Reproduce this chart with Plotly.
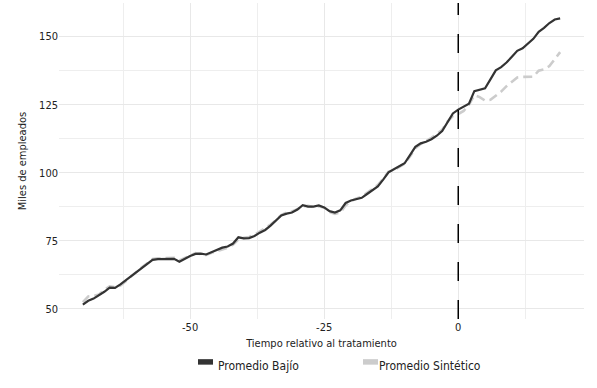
import plotly.graph_objects as go

# ---------------- data ----------------
tiempo = list(range(-70, 20))

promedio_bajio = [
    51.6, 53.0, 53.8, 55.0, 56.3, 57.8, 57.7, 59.0, 60.5, 62.0,
    63.5, 65.0, 66.5, 68.0, 68.3, 68.3, 68.4, 68.4, 67.3, 68.5,
    69.4, 70.2, 70.3, 70.0, 70.8, 71.6, 72.5, 72.9, 74.0, 76.3,
    75.9, 76.0, 76.8, 78.0, 79.0, 80.6, 82.3, 84.3, 85.0, 85.4,
    86.5, 88.1, 87.6, 87.6, 88.0, 87.3, 85.9, 85.4, 86.2, 88.9,
    89.8, 90.4, 90.8, 92.2, 93.5, 95.0, 97.5, 100.2, 101.3, 102.4,
    103.5, 106.5, 109.5, 110.8, 111.4, 112.3, 113.6, 115.3, 118.3, 121.8,
    123.2, 124.2, 125.4, 130.0, 130.5, 131.0, 134.3, 137.6, 138.8, 140.5,
    142.6, 144.8, 145.7, 147.3, 149.2, 151.8, 153.2, 155.0, 156.3, 156.7,
]

promedio_sintetico = [
    52.5, 54.6, 54.8, 55.3, 57.0, 58.3, 58.0, 58.6, 60.2, 62.0,
    63.7, 65.3, 66.8, 68.3, 68.6, 68.7, 68.9, 68.8, 67.8, 68.7,
    69.7, 70.5, 70.1, 69.8, 70.6, 71.2, 72.0, 72.5, 73.6, 75.5,
    76.1, 76.4, 77.2, 78.4, 79.5, 81.0, 82.6, 84.5, 85.4, 85.8,
    86.6, 87.7, 87.9, 87.4, 87.7, 87.2, 85.6, 84.9, 85.4, 88.0,
    89.5, 90.6, 91.2, 92.6, 93.9, 95.5, 97.8, 100.4, 101.0, 102.0,
    103.3, 106.0, 109.0, 110.6, 111.6, 112.8, 114.2, 115.8, 118.8, 120.8,
    121.6, 122.7, 125.0, 128.5, 127.8, 126.5, 126.8, 128.3, 129.8, 131.8,
    133.5, 135.0, 135.2, 135.2, 135.3, 137.5, 138.0, 139.2, 141.8, 144.3,
]

x_ticks = [-50, -25, 0]
y_ticks = [50, 75, 100, 125, 150]
tratamiento = 0

series_names = ["Promedio Bajío", "Promedio Sintético"]
series_colors = ["#333333", "#cccccc"]

FONT = "DejaVu Sans Condensed, sans-serif"
TXT = "#222222"

fig = go.Figure()

fig.add_trace(go.Scatter(
    x=tiempo, y=promedio_sintetico, mode="lines", name=series_names[1],
    line=dict(color=series_colors[1], width=2.6, dash="9px,5px"),
    showlegend=False,
))
fig.add_trace(go.Scatter(
    x=tiempo, y=promedio_bajio, mode="lines", name=series_names[0],
    line=dict(color=series_colors[0], width=2.2),
    showlegend=False,
))

# vertical treatment line (drawn bottom to top like ggplot)
fig.add_shape(type="line", xref="x", yref="y domain",
              x0=tratamiento, x1=tratamiento, y0=0, y1=1,
              line=dict(color="black", width=1.5, dash="19px,19px"))

# legend (swatch + label)
for (name, color, (sx, tx)) in zip(series_names, series_colors,
                                   [(198, 215.5), (363, 376.5)]):
    fig.add_shape(type="rect", xref="paper", yref="paper",
                  x0=(sx - 59) / 525, x1=(sx + 15 - 59) / 525,
                  y0=(319.3 - 365) / 316.3, y1=(319.3 - 359.5) / 316.3,
                  fillcolor=color, line=dict(width=0))
    fig.add_annotation(text=name, xref="paper", yref="paper",
                       x=(tx - 59) / 525, y=(319.3 - 366) / 316.3,
                       xanchor="left", yanchor="middle", showarrow=False,
                       font=dict(family=FONT, size=12, color=TXT))

fig.update_layout(
    width=597, height=388,
    margin=dict(l=59, r=13, t=3, b=69),
    paper_bgcolor="white", plot_bgcolor="white",
    font=dict(family=FONT, size=11, color=TXT),
    showlegend=False,
)

fig.update_xaxes(
    range=[-74.45, 23.45], tickvals=x_ticks, ticktext=[str(v) for v in x_ticks],
    showgrid=True, gridcolor="#e8e8e8", gridwidth=1,
    minor=dict(dtick=12.5, tick0=0, showgrid=True, gridcolor="#eeeeee", gridwidth=1),
    zeroline=False, showline=False, ticks="", ticklen=0, automargin=False,
    tickfont=dict(family=FONT, size=11, color=TXT),
    title=dict(text="Tiempo relativo al tratamiento", standoff=6,
               font=dict(family=FONT, size=11, color=TXT)),
)
fig.update_yaxes(
    range=[46.3, 162.35], tickvals=y_ticks, ticktext=[str(v) for v in y_ticks],
    showgrid=True, gridcolor="#e8e8e8", gridwidth=1,
    minor=dict(dtick=12.5, tick0=0, showgrid=True, gridcolor="#eeeeee", gridwidth=1),
    zeroline=False, showline=False, ticks="", ticklen=0, automargin=False,
    tickfont=dict(family=FONT, size=11, color=TXT),
    title=dict(text="Miles de empleados", standoff=10,
               font=dict(family=FONT, size=11, color=TXT)),
)

fig.write_html("out.html", config={"displayModeBar": False},
               post_script="document.body.style.margin='0';")
